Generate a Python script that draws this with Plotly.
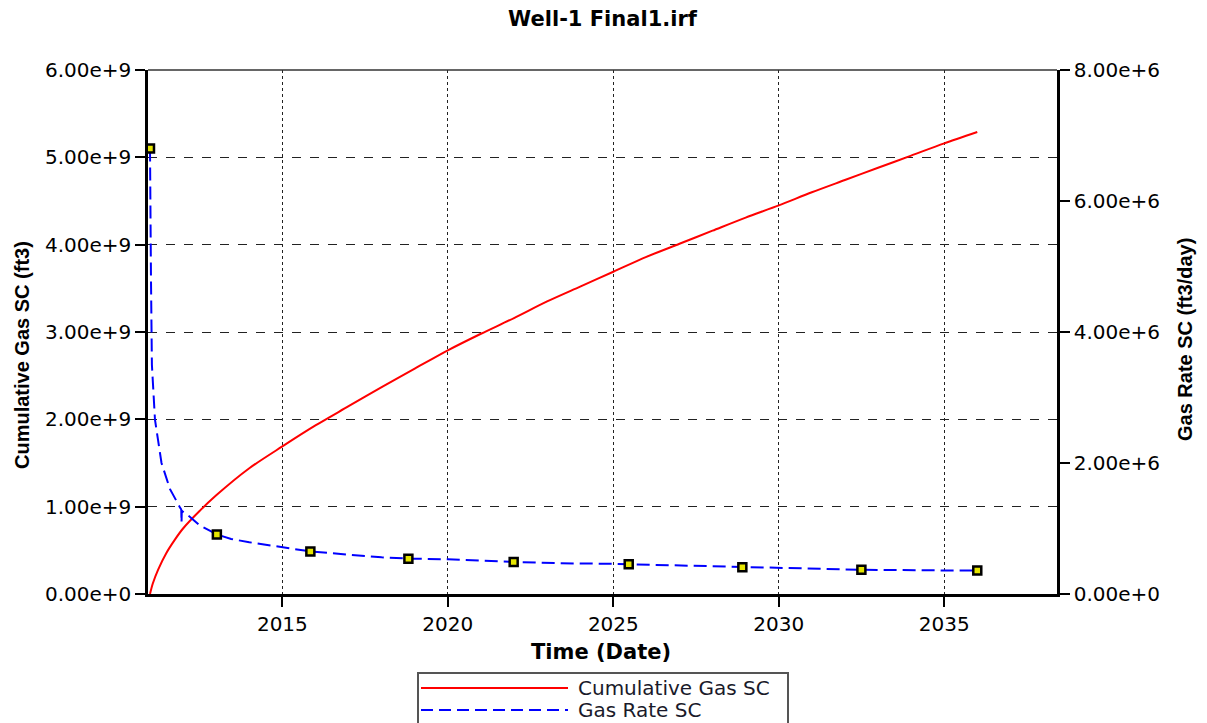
import plotly.graph_objects as go

# ---------------- data ----------------
chart_title = "Well-1 Final1.irf"
x_title = "Time (Date)"
y_left_title = "Cumulative Gas SC (ft3)"
y_right_title = "Gas Rate SC (ft3/day)"
series_names = ["Cumulative Gas SC", "Gas Rate SC"]

cum_dates = ["2011-01-01", "2011-02-01", "2011-04-01", "2011-07-01", "2011-10-01",
             "2012-01-01", "2012-07-01", "2013-01-01", "2014-01-01", "2015-01-01",
             "2016-01-01", "2017-01-01", "2018-01-01", "2019-01-01", "2020-01-01",
             "2021-01-01", "2022-01-01", "2023-01-01", "2024-01-01", "2025-01-01",
             "2026-01-01", "2027-01-01", "2028-01-01", "2029-01-01", "2030-01-01",
             "2031-01-01", "2032-01-01", "2033-01-01", "2034-01-01", "2035-01-01",
             "2036-01-01"]
cum_gas = [0.0, 0.12e9, 0.28e9, 0.47e9, 0.62e9,
           0.75e9, 0.95e9, 1.13e9, 1.44e9, 1.69e9,
           1.93e9, 2.15e9, 2.37e9, 2.58e9, 2.79e9,
           2.98e9, 3.16e9, 3.35e9, 3.52e9, 3.69e9,
           3.86e9, 4.01e9, 4.16e9, 4.31e9, 4.45e9,
           4.60e9, 4.74e9, 4.88e9, 5.02e9, 5.16e9,
           5.29e9]

rate_dates = ["2011-01-01", "2011-01-04", "2011-01-12", "2011-01-22", "2011-02-25",
              "2011-05-08", "2011-08-10", "2011-11-25", "2011-12-12", "2011-12-15",
              "2011-12-18", "2012-03-15", "2012-07-01", "2013-01-08", "2013-06-15",
              "2014-01-01", "2015-01-01", "2015-11-06", "2017-01-01", "2018-01-01",
              "2018-10-23", "2020-01-01", "2021-12-28", "2023-06-01", "2025-01-01",
              "2025-06-20", "2027-01-01", "2028-11-25", "2030-01-01", "2032-07-01",
              "2035-01-01", "2036-01-01"]
gas_rate = [6.80e6, 6.00e6, 4.80e6, 3.50e6, 2.66e6,
            2.00e6, 1.60e6, 1.33e6, 1.29e6, 1.09e6,
            1.27e6, 1.18e6, 1.05e6, 0.91e6, 0.84e6,
            0.79e6, 0.71e6, 0.65e6, 0.60e6, 0.56e6,
            0.54e6, 0.53e6, 0.49e6, 0.47e6, 0.46e6,
            0.455e6, 0.43e6, 0.41e6, 0.40e6, 0.37e6,
            0.36e6, 0.36e6]
# indices of rate points carrying the square symbols
rate_marker_idx = [0, 13, 17, 20, 22, 25, 27, 29, 31]

x_tick_vals = ["2015-01-01", "2020-01-01", "2025-01-01", "2030-01-01", "2035-01-01"]
x_tick_text = ["2015", "2020", "2025", "2030", "2035"]
x_range = ["2010-12-10", "2038-05-30"]
y_left_range = [0, 6e9]
y_right_range = [0, 8e6]

# ---------------- figure ----------------
TICK_FONT = dict(family="DejaVu Sans", size=20, color="#000000")
W, H = 1207, 723
ML, MR, MT, MB = 148, 150, 70, 129
PW, PH = W - ML - MR, H - MT - MB


def px_x(px):
    return (px - ML) / PW


def px_y(py):
    return (H - MB - py) / PH


fig = go.Figure()
fig.add_trace(go.Scatter(x=cum_dates, y=cum_gas, mode="lines", name=series_names[0],
                         line=dict(color="#ff0000", width=2, shape="spline", smoothing=0.8),
                         yaxis="y", showlegend=False))
fig.add_trace(go.Scatter(x=rate_dates, y=gas_rate, mode="lines", name=series_names[1],
                         line=dict(color="#0000ff", width=2, dash="13px,6px"),
                         yaxis="y2", showlegend=False))
fig.add_trace(go.Scatter(x=[rate_dates[i] for i in rate_marker_idx],
                         y=[gas_rate[i] for i in rate_marker_idx],
                         mode="markers", yaxis="y2", showlegend=False,
                         marker=dict(symbol="square", size=8, color="#e6e600",
                                     line=dict(color="#000000", width=2.5))))

fig.update_layout(
    width=W, height=H, autosize=False,
    margin=dict(l=ML, r=MR, t=MT, b=MB),
    paper_bgcolor="white", plot_bgcolor="white",
    title=dict(text="<b>" + chart_title + "</b>", x=0.5, xref="paper", xanchor="center",
               y=1 - 19 / H, yref="container", yanchor="middle",
               font=dict(family="DejaVu Sans", size=21, color="#000000")),
    xaxis=dict(type="date", range=x_range, tickvals=x_tick_vals, ticktext=x_tick_text,
               showline=True, linecolor="#000000", linewidth=2.5,
               ticks="outside", ticklen=10, tickwidth=2, tickcolor="#000000",
               showgrid=True, gridcolor="#222222", gridwidth=1, griddash="dot",
               zeroline=False, tickfont=TICK_FONT),
    yaxis=dict(range=y_left_range, dtick=1e9, tickformat=".2e",
               showline=True, linecolor="#000000", linewidth=2.5,
               ticks="outside", ticklen=10, tickwidth=2, tickcolor="#000000",
               showgrid=True, gridcolor="#222222", gridwidth=1, griddash="dash",
               zeroline=False, tickfont=TICK_FONT),
    yaxis2=dict(range=y_right_range, dtick=2e6, tickformat=".2e", overlaying="y",
                side="right", showline=True, linecolor="#000000", linewidth=2.5,
                ticks="outside", ticklen=10, tickwidth=2, tickcolor="#000000",
                showgrid=False, zeroline=False, tickfont=TICK_FONT),
)

# top frame line
fig.add_shape(type="line", xref="paper", yref="paper", x0=0, x1=1, y0=1, y1=1,
              line=dict(color="#333333", width=1.5))

# axis titles
fig.add_annotation(text="<b>" + x_title + "</b>", xref="paper", yref="paper",
                   x=px_x(601), y=px_y(652), showarrow=False, xanchor="center", yanchor="middle",
                   font=dict(family="DejaVu Sans", size=21, color="#000000"))
fig.add_annotation(text="<b>" + y_left_title + "</b>", xref="paper", yref="paper",
                   x=px_x(22), y=px_y(355), showarrow=False, textangle=-90,
                   xanchor="center", yanchor="middle",
                   font=dict(family="Liberation Sans", size=20, color="#000000"))
fig.add_annotation(text="<b>" + y_right_title + "</b>", xref="paper", yref="paper",
                   x=px_x(1185), y=px_y(340), showarrow=False, textangle=-90,
                   xanchor="center", yanchor="middle",
                   font=dict(family="Liberation Sans", size=20, color="#000000"))

# legend box (drawn manually to reproduce long line samples)
fig.add_shape(type="rect", xref="paper", yref="paper",
              x0=px_x(418), x1=px_x(788), y0=px_y(673), y1=px_y(740),
              line=dict(color="#555555", width=2), fillcolor="white")
fig.add_shape(type="line", xref="paper", yref="paper",
              x0=px_x(421), x1=px_x(568), y0=px_y(688), y1=px_y(688),
              line=dict(color="#ff0000", width=2))
fig.add_shape(type="line", xref="paper", yref="paper",
              x0=px_x(421), x1=px_x(568), y0=px_y(710), y1=px_y(710),
              line=dict(color="#0000ff", width=2, dash="12px,6px"))
for name, py in zip(series_names, [688, 710]):
    fig.add_annotation(text=name, xref="paper", yref="paper", x=px_x(576), y=px_y(py),
                       showarrow=False, xanchor="left", yanchor="middle",
                       font=dict(family="DejaVu Sans", size=20, color="#1a1a2a"))

fig.write_html("out.html", config={"displayModeBar": False},
               post_script="document.body.style.margin='0';")
